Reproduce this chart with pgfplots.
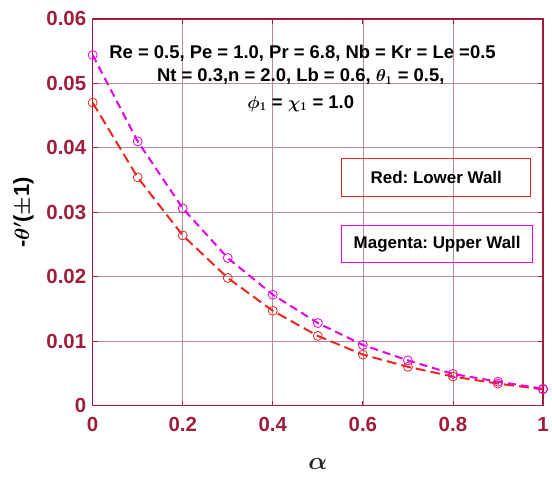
\documentclass[border=0pt]{standalone}
\usepackage{fontspec}
\setmainfont{Liberation Sans}
\usepackage{pgfplots}
\pgfplotsset{compat=1.18}
\frenchspacing
\definecolor{maroonc}{RGB}{160,30,60}
\definecolor{gridc}{RGB}{185,140,150}
\definecolor{redc}{RGB}{230,40,30}
\definecolor{magc}{RGB}{230,0,230}
\newcommand\fTick{\bfseries\fontsize{20.5}{20.5}\selectfont}
\newcommand\fAnn{\bfseries\fontsize{18.5}{18.5}\selectfont\boldmath}
\newcommand\fBox{\bfseries\fontsize{17}{17}\selectfont}
\newcommand\fYl{\bfseries\fontsize{22}{22}\selectfont\boldmath}
\newcommand\fXl{\fontsize{30}{30}\selectfont\boldmath}
\begin{document}
\begin{tikzpicture}
\path (-93pt,-71pt) rectangle (459pt,407pt);
\begin{axis}[
  scale only axis,
  width=452pt, height=388pt,
  xmin=0, xmax=1, ymin=0, ymax=0.06,
  xtick={0,0.2,0.4,0.6,0.8,1},
  xticklabels={0,0.2,0.4,0.6,0.8,1},
  ytick={0,0.01,0.02,0.03,0.04,0.05,0.06},
  yticklabels={0,0.01,0.02,0.03,0.04,0.05,0.06},
  scaled y ticks=false,
  tick align=inside,
  axis line style={draw=maroonc, line width=1.2pt},
  tick style={draw=maroonc, line width=0.8pt},
  major tick length=5pt,
  grid=major,
  major grid style={draw=gridc, line width=0.6pt},
  ticklabel style={font=\fTick, text=maroonc},
  xticklabel style={yshift=-8pt},
  yticklabel style={xshift=-3pt},
  /pgf/number format/assume math mode=true,
  xlabel={$\alpha$},
  xlabel style={font=\fXl, text=black!85, yshift=-20pt},
  ylabel={-$\theta^{\prime}$($\pm$1)},
  ylabel style={font=\fYl, yshift=6pt},
  clip=false,
]
\addplot[redc, line width=2pt, dash pattern=on 10pt off 5pt, mark=o, mark size=4.5pt, mark options={solid, line width=0.8pt}]
  coordinates {(0,0.0470) (0.1,0.0354) (0.2,0.0264) (0.3,0.0198) (0.4,0.0147) (0.5,0.0108) (0.6,0.0079) (0.7,0.0060) (0.8,0.0045) (0.9,0.0034) (1.0,0.0025)};
\addplot[magc, line width=2pt, dash pattern=on 8pt off 5pt, mark=o, mark size=4.5pt, mark options={solid, line width=0.8pt}]
  coordinates {(0,0.0544) (0.1,0.0410) (0.2,0.0306) (0.3,0.0229) (0.4,0.0172) (0.5,0.0128) (0.6,0.0094) (0.7,0.0070) (0.8,0.0049) (0.9,0.0037) (1.0,0.0026)};
\node[font=\fAnn] at (axis cs:0.466,0.0547) {Re = 0.5, Pe = 1.0, Pr = 6.8, Nb = Kr = Le =0.5};
\node[font=\fAnn] at (axis cs:0.462,0.0511) {Nt = 0.3,n = 2.0, Lb = 0.6, $\theta_1$ = 0.5,};
\node[font=\fAnn] at (axis cs:0.462,0.0469) {$\phi_1$ = $\chi_1$ = 1.0};
\node[draw=redc, line width=1pt, minimum width=190pt, minimum height=38pt, font=\fBox] at (axis cs:0.763,0.0354) {Red: Lower Wall};
\node[draw=magc, line width=1pt, minimum width=192pt, minimum height=37pt, font=\fBox] at (axis cs:0.765,0.0251) {Magenta: Upper Wall};
\end{axis}
\end{tikzpicture}
\end{document}
